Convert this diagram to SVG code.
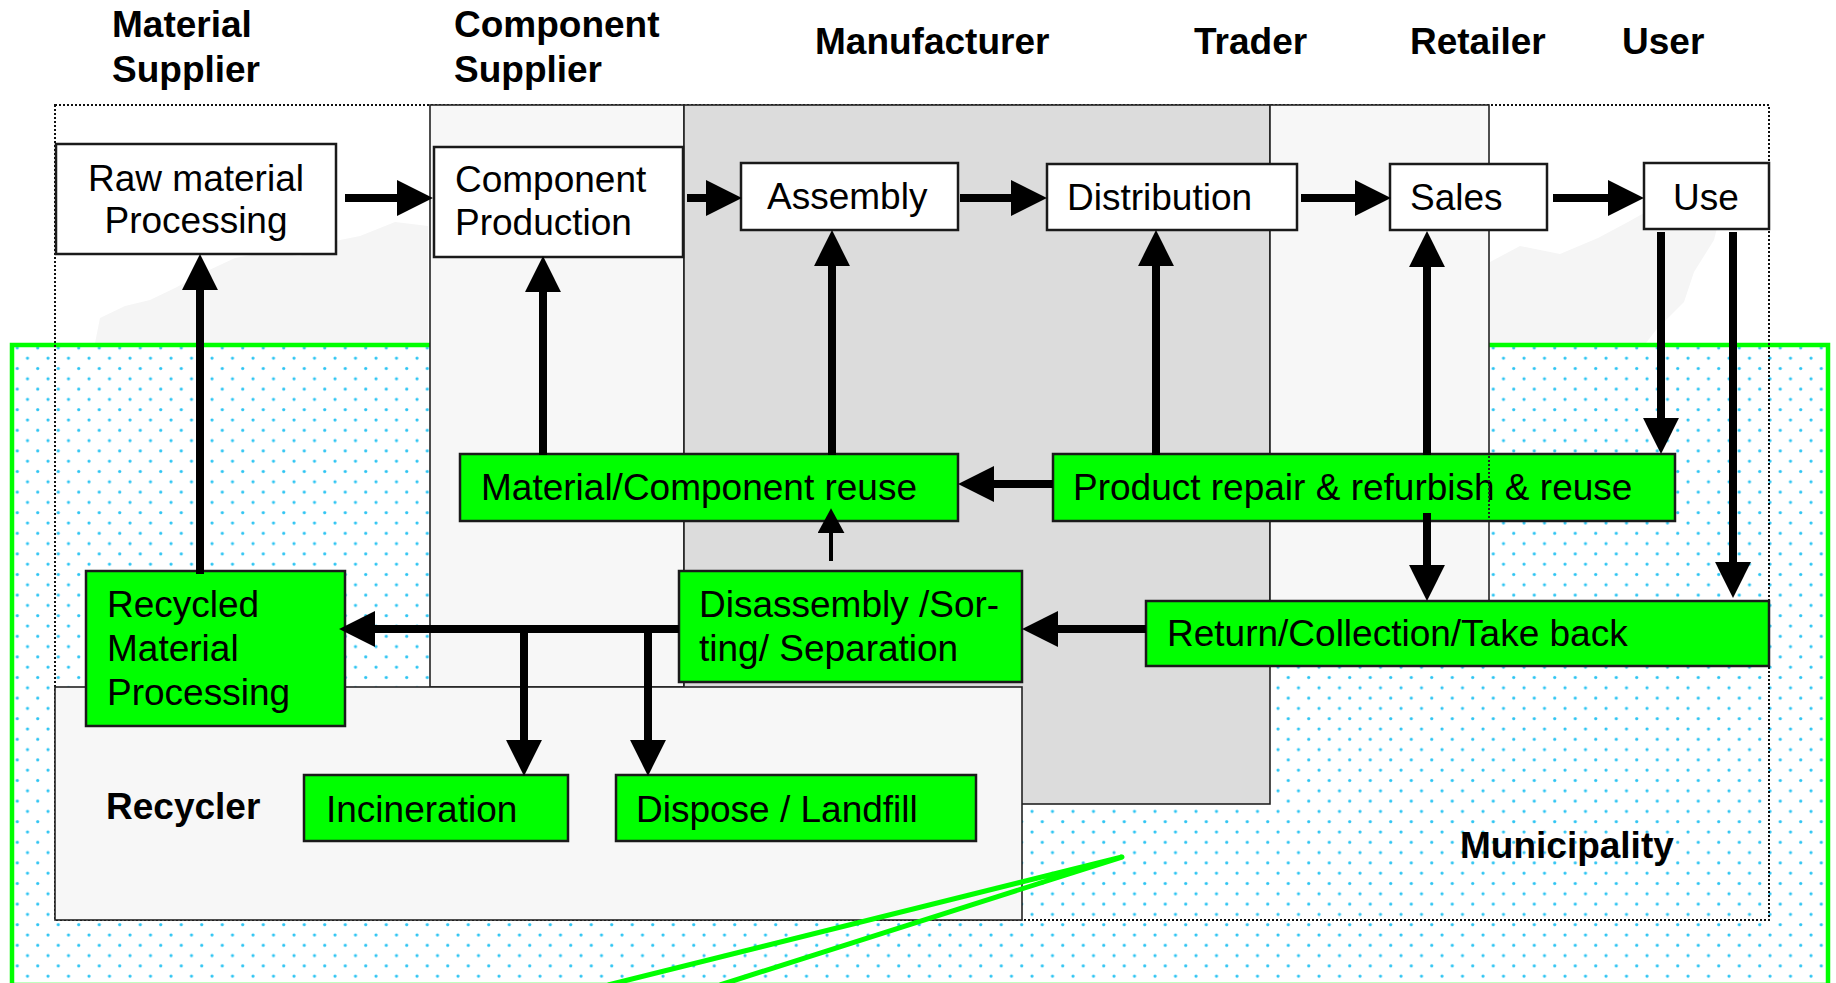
<svg xmlns="http://www.w3.org/2000/svg" width="1836" height="983" viewBox="0 0 1836 983">
  <style>
    .hdr { font-family: "Liberation Sans", Arial, sans-serif; font-weight: bold; font-size: 37px; fill: #000; }
    .lbl { font-family: "Liberation Sans", Arial, sans-serif; font-size: 37px; fill: #000; }
    .node { fill: #ffffff; stroke: #1a1a1a; stroke-width: 2.5; }
    .gnode { fill: #00ff00; stroke: #1a1a1a; stroke-width: 2.5; }
    .zone { fill: #f7f7f7; stroke: #222; stroke-width: 1.6; }
    .zone-dark { fill: #dcdcdc; stroke: #222; stroke-width: 1.6; }
    .dotted { fill: none; stroke: #111; stroke-width: 2; stroke-dasharray: 2 2; }
    .thick { fill: none; stroke: #000; stroke-width: 8; marker-end: url(#head); }
    .thin { fill: none; stroke: #000; stroke-width: 4; marker-end: url(#head-small); }
    .map { fill: #f5f5f5; }
  </style>
  <defs>
    <pattern id="dots" width="20.5" height="20.6" patternUnits="userSpaceOnUse" x="2" y="3">
      <circle cx="5" cy="5" r="1.6" fill="#2cc4f2"/>
      <circle cx="15.25" cy="15.3" r="1.6" fill="#2cc4f2"/>
    </pattern>
    <marker id="head" markerUnits="userSpaceOnUse" markerWidth="36" markerHeight="36" viewBox="0 0 35 35" refX="3" refY="17.5" orient="auto">
      <path d="M0,0 L35,17.5 L0,35 Z" fill="#000"/>
    </marker>
    <marker id="head-small" markerUnits="userSpaceOnUse" markerWidth="25" markerHeight="27" viewBox="0 0 24 26" refX="3" refY="13" orient="auto">
      <path d="M0,0 L24,13 L0,26 Z" fill="#000"/>
    </marker>
  </defs>

  <rect width="1836" height="983" fill="#ffffff"/>

  <!-- faint world map behind the supply chain -->
  <g id="map">
    <path class="map" d="M95,343 L100,318 L125,306 L150,300 L175,288 L205,272 L235,258 L268,252 L300,256 L330,242 L360,236 L395,222 L428,226 L428,343 Z"/>
    <path class="map" d="M1490,343 L1490,262 L1520,246 L1560,254 L1598,238 L1628,222 L1660,204 L1700,188 L1724,200 L1714,240 L1694,272 L1684,302 L1656,330 L1646,343 Z"/>
  </g>

  <!-- municipality: dotted area framed in green -->
  <g id="municipality">
    <rect x="12" y="345" width="1816" height="640" fill="url(#dots)" stroke="#00ff00" stroke-width="4.5"/>
    <text class="hdr" x="1460" y="858">Municipality</text>
  </g>

  <!-- outline of the whole chain -->
  <rect id="chain-outline" class="dotted" x="55" y="105" width="1714" height="815"/>

  <!-- actor zones -->
  <g id="zone-component-supplier">
    <rect class="zone" x="430" y="105" width="254" height="582"/>
  </g>
  <g id="zone-manufacturer">
    <rect class="zone-dark" x="684" y="105" width="586" height="699"/>
  </g>
  <g id="zone-trader">
    <rect class="zone" x="1270" y="105" width="219" height="530"/>
  </g>
  <g id="zone-recycler">
    <rect class="zone" x="55" y="687" width="967" height="233"/>
    <text class="hdr" x="106" y="819">Recycler</text>
  </g>

  <!-- column headings -->
  <g id="headings">
    <text class="hdr" x="112" y="37">Material</text>
    <text class="hdr" x="112" y="82">Supplier</text>
    <text class="hdr" x="454" y="37">Component</text>
    <text class="hdr" x="454" y="82">Supplier</text>
    <text class="hdr" x="815" y="54">Manufacturer</text>
    <text class="hdr" x="1194" y="54">Trader</text>
    <text class="hdr" x="1410" y="54">Retailer</text>
    <text class="hdr" x="1622" y="54">User</text>
  </g>

  <!-- forward chain -->
  <g id="raw-material">
    <rect class="node" x="56" y="144" width="280" height="110"/>
    <text class="lbl" x="196" y="191" text-anchor="middle">Raw material</text>
    <text class="lbl" x="196" y="233" text-anchor="middle">Processing</text>
  </g>
  <g id="component-production">
    <rect class="node" x="434" y="147" width="249" height="110"/>
    <text class="lbl" x="455" y="192">Component</text>
    <text class="lbl" x="455" y="235">Production</text>
  </g>
  <g id="assembly">
    <rect class="node" x="741" y="163" width="217" height="67"/>
    <text class="lbl" x="767" y="209">Assembly</text>
  </g>
  <g id="distribution">
    <rect class="node" x="1047" y="164" width="250" height="66"/>
    <text class="lbl" x="1067" y="210">Distribution</text>
  </g>
  <g id="sales">
    <rect class="node" x="1390" y="164" width="157" height="66"/>
    <text class="lbl" x="1410" y="210">Sales</text>
  </g>
  <g id="use">
    <rect class="node" x="1644" y="163" width="125" height="66"/>
    <text class="lbl" x="1706" y="210" text-anchor="middle">Use</text>
  </g>

  <!-- reverse chain -->
  <g id="material-component-reuse">
    <rect class="gnode" x="460" y="454" width="498" height="67"/>
    <text class="lbl" x="481" y="500">Material/Component reuse</text>
  </g>
  <g id="product-repair">
    <rect class="gnode" x="1053" y="454" width="622" height="67"/>
    <text class="lbl" x="1073" y="500">Product repair &amp; refurbish &amp; reuse</text>
    <line x1="1489" y1="456" x2="1489" y2="519" stroke="#222" stroke-width="2" stroke-dasharray="2 2"/>
  </g>
  <g id="recycled-material">
    <rect class="gnode" x="86" y="571" width="259" height="155"/>
    <text class="lbl" x="107" y="617">Recycled</text>
    <text class="lbl" x="107" y="661">Material</text>
    <text class="lbl" x="107" y="705">Processing</text>
  </g>
  <g id="disassembly">
    <rect class="gnode" x="679" y="571" width="343" height="111"/>
    <text class="lbl" x="699" y="617">Disassembly /Sor-</text>
    <text class="lbl" x="699" y="661">ting/ Separation</text>
  </g>
  <g id="return-collection">
    <rect class="gnode" x="1146" y="601" width="623" height="65"/>
    <text class="lbl" x="1167" y="646">Return/Collection/Take back</text>
  </g>
  <g id="incineration">
    <rect class="gnode" x="304" y="775" width="264" height="66"/>
    <text class="lbl" x="326" y="822">Incineration</text>
  </g>
  <g id="landfill">
    <rect class="gnode" x="616" y="775" width="360" height="66"/>
    <text class="lbl" x="636" y="822">Dispose / Landfill</text>
  </g>

  <!-- material flows -->
  <g id="connectors">
    <line class="thick" x1="345" y1="198" x2="400" y2="198"/>
    <line class="thick" x1="687" y1="198" x2="709" y2="198"/>
    <line class="thick" x1="960" y1="198" x2="1014" y2="198"/>
    <line class="thick" x1="1301" y1="198" x2="1358" y2="198"/>
    <line class="thick" x1="1553" y1="198" x2="1611" y2="198"/>

    <line class="thick" x1="200" y1="574" x2="200" y2="287"/>
    <line class="thick" x1="543" y1="455" x2="543" y2="289"/>
    <line class="thick" x1="832" y1="455" x2="832" y2="263"/>
    <line class="thick" x1="1156" y1="455" x2="1156" y2="263"/>
    <line class="thick" x1="1427" y1="455" x2="1427" y2="264"/>
    <line class="thick" x1="1427" y1="513" x2="1427" y2="568"/>
    <line class="thick" x1="1661" y1="232" x2="1661" y2="421"/>
    <line class="thick" x1="1733" y1="232" x2="1733" y2="565"/>

    <line class="thick" x1="1053" y1="484" x2="991" y2="484"/>
    <line class="thick" x1="1146" y1="629" x2="1055" y2="629"/>
    <line class="thick" x1="679" y1="629" x2="372" y2="629"/>
    <line class="thick" x1="524" y1="629" x2="524" y2="743"/>
    <line class="thick" x1="648" y1="629" x2="648" y2="743"/>

    <line class="thin" x1="831" y1="561" x2="831" y2="530"/>
  </g>

  <!-- green pointer -->
  <polyline id="pointer" points="608,985 1122,857 720,985" fill="none" stroke="#00ff00" stroke-width="5" stroke-linejoin="round"/>
</svg>
